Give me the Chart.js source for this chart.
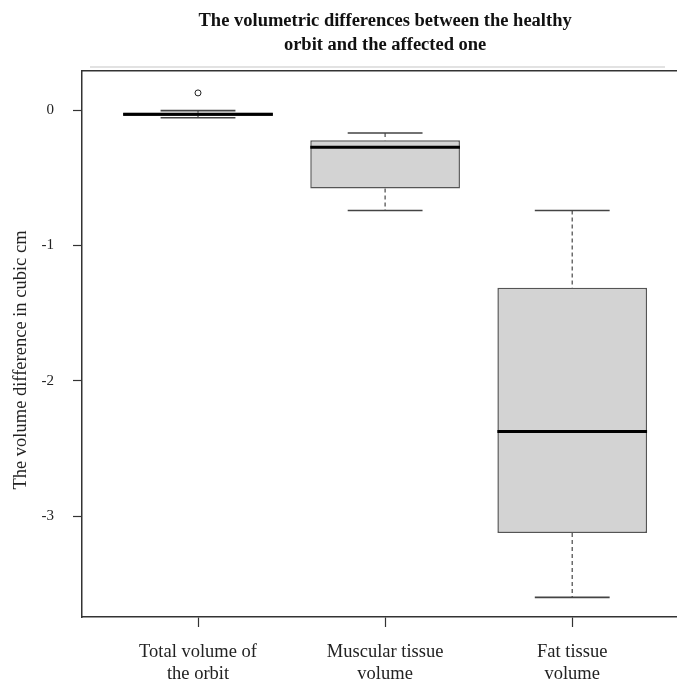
<!DOCTYPE html>
<html>
<head>
<meta charset="utf-8">
<script src="https://cdn.jsdelivr.net/npm/chart.js@4.4.1/dist/chart.umd.min.js"></script>
<style>
    body { margin: 0; background: #fff; }
</style>
</head>
<body>
<canvas id="graficaCajas" width="677" height="682"></canvas>
<script>
// Datos
var categorias = [["Total volume of", "the orbit"], ["Muscular tissue", "volume"], ["Fat tissue", "volume"]];
var posiciones = [1, 2, 3];
var minimos  = [-0.055, -0.741, -3.600];
var cuartil1 = [-0.042, -0.578, -3.125];
var medianas = [-0.030, -0.274, -2.375];
var cuartil3 = [-0.018, -0.222, -1.311];
var maximos  = [-0.003, -0.168, -0.741];
var atipicosX = [1];
var atipicosY = [0.128];
var ticksY = [0, -1, -2, -3];
var titulo = ["The volumetric differences between the healthy", "orbit and the affected one"];
var tituloY = "The volume difference in cubic cm";

var MEDIA_CAJA = 0.4;   // mitad del ancho de la caja (unidades del eje x)
var MEDIO_TOPE = 0.2;   // mitad del ancho del tope del bigote
var fuente = "'Liberation Serif', 'Times New Roman', serif";

// Cajas (barras flotantes de Q1 a Q3)
var datosCajas = posiciones.map(function (x, i) {
    return { x: x, y: [cuartil1[i], cuartil3[i]] };
});

// Bigotes, topes y medianas como segmentos separados por huecos (null)
var datosBigotes = [];
var datosTopes = [];
var datosMedianas = [];
posiciones.forEach(function (x, i) {
    datosBigotes.push({ x: x, y: maximos[i] }, { x: x, y: cuartil3[i] }, { x: x, y: null });
    datosBigotes.push({ x: x, y: cuartil1[i] }, { x: x, y: minimos[i] }, { x: x, y: null });
    datosTopes.push({ x: x - MEDIO_TOPE, y: maximos[i] }, { x: x + MEDIO_TOPE, y: maximos[i] }, { x: x, y: null });
    datosTopes.push({ x: x - MEDIO_TOPE, y: minimos[i] }, { x: x + MEDIO_TOPE, y: minimos[i] }, { x: x, y: null });
    datosMedianas.push({ x: x - MEDIA_CAJA, y: medianas[i] }, { x: x + MEDIA_CAJA, y: medianas[i] }, { x: x, y: null });
});

var datosAtipicos = atipicosX.map(function (x, i) {
    return { x: x, y: atipicosY[i] };
});

// Titulo y etiqueta del eje y (como en R, centrados en la region del grafico)
var textosExtra = {
    id: "textosExtra",
    beforeDraw: function (chart) {
        var ctx = chart.ctx;
        var area = chart.chartArea;
        ctx.save();
        ctx.strokeStyle = "#e2e2e2";
        ctx.lineWidth = 2;
        ctx.beginPath();
        ctx.moveTo(area.left + 8, area.top - 4);
        ctx.lineTo(area.right - 12, area.top - 4);
        ctx.stroke();
        ctx.restore();
    },
    afterDraw: function (chart) {
        var ctx = chart.ctx;
        var area = chart.chartArea;
        var xs = chart.scales.x;
        var centro = xs.getPixelForValue((posiciones[0] + posiciones[posiciones.length - 1]) / 2);
        ctx.save();
        ctx.fillStyle = "#111";
        ctx.font = "bold 18.5px " + fuente;
        ctx.textAlign = "center";
        ctx.textBaseline = "middle";
        titulo.forEach(function (linea, k) {
            ctx.fillText(linea, centro, 21 + k * 24);
        });
        ctx.font = "18.5px " + fuente;
        ctx.fillStyle = "#222";
        ctx.translate(21, (area.top + area.bottom) / 2 + 16);
        ctx.rotate(-Math.PI / 2);
        ctx.fillText(tituloY, 0, 0);
        ctx.restore();
    }
};

new Chart(document.getElementById("graficaCajas"), {
    type: "bar",
    data: {
        datasets: [
            {
                type: "bar",
                data: datosCajas,
                backgroundColor: "#d3d3d3",
                borderColor: "#555",
                borderWidth: 1.5,
                borderSkipped: false,
                barPercentage: 2 * MEDIA_CAJA,
                categoryPercentage: 1,
                order: 4,
            },
            {
                type: "line",
                data: datosBigotes,
                borderColor: "#555",
                borderWidth: 1.3,
                borderDash: [4, 3],
                pointRadius: 0,
                order: 3,
            },
            {
                type: "line",
                data: datosTopes,
                borderColor: "#444",
                borderWidth: 1.6,
                pointRadius: 0,
                order: 2,
            },
            {
                type: "line",
                data: datosMedianas,
                borderColor: "#000",
                borderWidth: 3,
                pointRadius: 0,
                order: 1,
            },
            {
                type: "scatter",
                data: datosAtipicos,
                pointRadius: 3,
                pointBorderWidth: 1,
                pointBackgroundColor: "#fff",
                pointBorderColor: "#222",
                order: 0,
            },
        ],
    },
    options: {
        responsive: false,
        animation: false,
        devicePixelRatio: 1,
        layout: { autoPadding: false, padding: { top: 71, left: 0, right: 0, bottom: 0 } },
        plugins: {
            legend: { display: false },
            tooltip: { enabled: false },
        },
        scales: {
            x: {
                type: "linear",
                position: "bottom",
                min: 0.38,
                max: 3.56,
                offset: false,
                afterBuildTicks: function (s) {
                    s.ticks = posiciones.map(function (v) { return { value: v }; });
                },
                afterFit: function (s) {
                    s.height = 65;
                    s.paddingLeft = 0;
                    s.paddingRight = 0;
                },
                ticks: {
                    autoSkip: false,
                    maxRotation: 0,
                    padding: 14,
                    color: "#222",
                    font: { family: fuente, size: 18.5, lineHeight: 1.2 },
                    callback: function (value) {
                        return categorias[posiciones.indexOf(value)];
                    },
                },
                grid: {
                    offset: false,
                    drawOnChartArea: false,
                    drawTicks: true,
                    tickLength: 10,
                    tickColor: "#333",
                    tickWidth: 1.2,
                },
                border: { display: true, color: "#333", width: 1.5 },
            },
            x2: {
                type: "linear",
                position: "top",
                min: 0.38,
                max: 3.56,
                afterFit: function (s) {
                    s.height = 0;
                    s.paddingLeft = 0;
                    s.paddingRight = 0;
                },
                ticks: { display: false },
                grid: { display: false, drawTicks: false },
                border: { display: true, color: "#333", width: 1.5 },
            },
            y: {
                type: "linear",
                min: -3.745,
                max: 0.29,
                afterBuildTicks: function (s) {
                    s.ticks = ticksY.map(function (v) { return { value: v }; });
                },
                afterFit: function (s) { s.width = 82; },
                ticks: {
                    padding: 19,
                    color: "#222",
                    font: { family: fuente, size: 15 },
                },
                grid: {
                    drawOnChartArea: false,
                    drawTicks: true,
                    tickLength: 9,
                    tickColor: "#333",
                    tickWidth: 1.2,
                },
                border: { display: true, color: "#333", width: 1.5 },
            },
        },
    },
    plugins: [textosExtra],
});
</script>
</body>
</html>
